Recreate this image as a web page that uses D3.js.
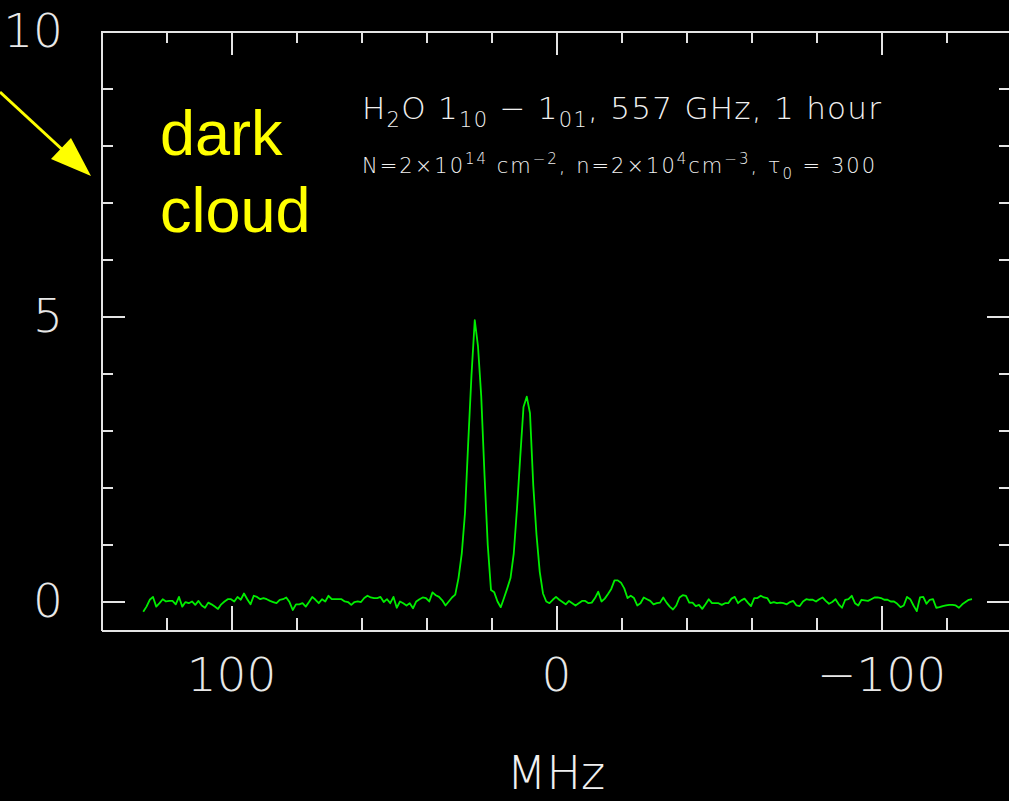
<!DOCTYPE html>
<html>
<head>
<meta charset="utf-8">
<style>
    body { margin: 0; background: #000; }
    svg { display: block; background: #000; }
    .axis path, .axis line { stroke: #e4e4e4; stroke-width: 2; shape-rendering: crispEdges; }
    .axis text { fill: #e8e8e8; font-family: "DejaVu Sans"; font-weight: 200; font-size: 47px; }
    .label { fill: #f0f0f0; font-family: "DejaVu Sans"; font-weight: 200; }
    .note { fill: #ffff00; font-family: "Liberation Sans", Arial, sans-serif; font-size: 63px; }
</style>
</head>
<body>
<svg width="1009" height="801"></svg>

<script src="https://d3js.org/d3.v7.min.js"></script>
<script>

    // spectrum channels: first channel and channel width (MHz)
    const freqStart = 127;
    const freqStep = -1;

    // antenna temperature per channel (127 MHz down to -128 MHz)
    const intensity = [
        -0.18, -0.09, 0.03, 0.08, -0.09, -0.03, 0.04, 0.0, 0.01, 0.01,
        -0.05, 0.08, -0.09, -0.01, -0.03, 0.0, -0.06, 0.01, -0.07, -0.11,
        -0.02, -0.05, -0.09, -0.13, -0.05, 0.0, 0.04, 0.04, 0.0, 0.08,
        0.03, 0.14, 0.04, -0.05, 0.10, 0.08, 0.04, 0.06, 0.04, 0.01,
        -0.01, -0.03, 0.03, 0.04, 0.07, -0.01, -0.15, -0.05, -0.05, -0.03,
        -0.09, -0.01, 0.08, 0.03, -0.03, 0.04, 0.0, 0.10, 0.04, 0.04,
        0.04, 0.04, 0.0, -0.01,
        -0.06, -0.01, 0.0, -0.01, 0.06, 0.10, 0.07, 0.06, 0.06, 0.08,
        -0.01, 0.04, -0.03, 0.08, -0.11, 0.0, -0.03, -0.07, -0.03, -0.12,
        0.0, 0.04, 0.07, 0.06, 0.0, 0.16, 0.11, 0.08, 0.02, -0.07,
        0.0, 0.07, 0.12,
        0.41, 0.84, 1.55, 2.80, 3.97, 4.93, 4.47, 3.59, 2.22, 0.99,
        0.20, 0.16, 0.0, -0.10, 0.06, 0.23, 0.41, 0.84, 1.63, 2.54,
        3.41, 3.59, 3.30, 2.04, 1.17, 0.52, 0.14, 0.0, -0.03, 0.03,
        0.08,
        0.03, -0.01, -0.05, 0.01, -0.03, -0.07, -0.03, 0.01, 0.01, -0.03,
        -0.02, 0.06, 0.17, 0.0, 0.05, 0.13, 0.22, 0.37, 0.37, 0.33,
        0.23, 0.06, 0.10, 0.06, -0.07, -0.03, 0.07, 0.04, 0.01, -0.05,
        -0.03, -0.02, 0.07, -0.02, -0.09, -0.14, -0.07, 0.07, 0.11, 0.10,
        -0.02, -0.02, -0.08, -0.06, -0.13, -0.05, 0.04, -0.03, -0.03, -0.03,
        -0.06, -0.03, -0.03, 0.05, 0.08, -0.03, 0.02, 0.05, -0.02, -0.08,
        0.06, 0.06, 0.10, 0.07,
        0.06, -0.03, -0.01, -0.03, -0.02, -0.03, -0.05, -0.01, 0.01, -0.07,
        -0.08, 0.0, 0.04, 0.03, 0.03, 0.0, 0.04, 0.07, 0.01, -0.04,
        -0.01, 0.04, -0.05, -0.11, 0.03, 0.04, 0.10, -0.03, -0.07, 0.03,
        0.02, 0.01, 0.04, 0.07, 0.07, 0.06, 0.03, 0.03, 0.0, 0.0,
        -0.04, -0.10, -0.07, 0.08, 0.04, -0.07, -0.17, 0.07, 0.08, -0.04,
        0.03, 0.04, -0.11, -0.10, -0.08, -0.07, -0.06, -0.06, -0.07, -0.11,
        -0.05, -0.01, 0.03, 0.04
    ];

    const xTicksMajor = [100, 0, -100];
    const xTicksMinor = [140, 120, 80, 60, 40, 20, -20, -40, -60, -80, -120, -140];
    const yTicksMajor = [0, 5, 10];
    const yTicksMinor = [1, 2, 3, 4, 6, 7, 8, 9];

    const width = 1009;
    const height = 801;
    const boxLeft = 101, boxRight = 1011, boxTop = 31, boxBottom = 630;

    let svg = d3.select("svg");

    let x = d3.scaleLinear().domain([140, -140]).range([boxLeft, boxRight]);
    let y = d3.scaleLinear().domain([-0.5, 10]).range([boxBottom, boxTop]);

    let data = intensity.map((v, i) => ({ f: freqStart + i * freqStep, v: v }));

    // axes: major ticks longer than minor, all pointing inward
    function addAxis(axis, transform) {
        svg.append("g")
            .attr("class", "axis")
            .attr("transform", transform)
            .call(axis)
    }

    addAxis(d3.axisBottom(x).tickValues(xTicksMinor).tickSizeInner(-12).tickSizeOuter(0).tickFormat(""), `translate(0,${boxBottom})`);
    addAxis(d3.axisBottom(x).tickValues(xTicksMajor).tickSizeInner(-24).tickSizeOuter(0).tickPadding(28), `translate(0,${boxBottom})`);
    addAxis(d3.axisTop(x).tickValues(xTicksMinor).tickSizeInner(-12).tickSizeOuter(0).tickFormat(""), `translate(0,${boxTop})`);
    addAxis(d3.axisTop(x).tickValues(xTicksMajor).tickSizeInner(-24).tickSizeOuter(0).tickFormat(""), `translate(0,${boxTop})`);

    addAxis(d3.axisLeft(y).tickValues(yTicksMinor).tickSizeInner(-12).tickSizeOuter(0).tickFormat(""), `translate(${boxLeft},0)`);
    addAxis(d3.axisLeft(y).tickValues(yTicksMajor).tickSizeInner(-24).tickSizeOuter(0).tickPadding(38), `translate(${boxLeft},0)`);
    addAxis(d3.axisRight(y).tickValues(yTicksMinor).tickSizeInner(-12).tickSizeOuter(0).tickFormat(""), `translate(${boxRight},0)`);
    addAxis(d3.axisRight(y).tickValues(yTicksMajor).tickSizeInner(-24).tickSizeOuter(0).tickFormat(""), `translate(${boxRight},0)`);

    svg.selectAll(".axis").attr("font-size", null).attr("font-family", null);

    // spectrum
    let line = d3.line()
        .x(d => x(d.f))
        .y(d => y(d.v))

    svg.append("path")
        .datum(data)
        .attr("d", line)
        .style("fill", "none")
        .style("stroke", "#00ee00")
        .style("stroke-width", 1.8)
        .style("stroke-linejoin", "round")

    // x label
    svg.append("text")
        .attr("class", "label")
        .attr("x", x(0))
        .attr("y", 789)
        .attr("text-anchor", "middle")
        .style("font-size", "46px")
        .text("MHz")

    // title lines
    let t1 = svg.append("text")
        .attr("class", "label")
        .attr("x", 362)
        .attr("y", 119)
        .attr("textLength", 519)
        .attr("lengthAdjust", "spacing")
        .style("font-size", "31px")
    t1.append("tspan").text("H")
    t1.append("tspan").attr("dy", 8).style("font-size", "21px").text("2")
    t1.append("tspan").attr("dy", -8).text("O 1")
    t1.append("tspan").attr("dy", 8).style("font-size", "21px").text("10")
    t1.append("tspan").attr("dy", -8).text(" \u2212 1")
    t1.append("tspan").attr("dy", 8).style("font-size", "21px").text("01")
    t1.append("tspan").attr("dy", -8).text(", 557 GHz, 1 hour")

    let t2 = svg.append("text")
        .attr("class", "label")
        .attr("x", 362)
        .attr("y", 173)
        .attr("textLength", 513)
        .attr("lengthAdjust", "spacing")
        .style("font-size", "21px")
    t2.append("tspan").text("N=2\u00d710")
    t2.append("tspan").attr("dy", -9).style("font-size", "15px").text("14")
    t2.append("tspan").attr("dy", 9).text(" cm")
    t2.append("tspan").attr("dy", -9).style("font-size", "15px").text("\u22122")
    t2.append("tspan").attr("dy", 9).text(", n=2\u00d710")
    t2.append("tspan").attr("dy", -9).style("font-size", "15px").text("4")
    t2.append("tspan").attr("dy", 9).text("cm")
    t2.append("tspan").attr("dy", -9).style("font-size", "15px").text("\u22123")
    t2.append("tspan").attr("dy", 9).text(", \u03c4")
    t2.append("tspan").attr("dy", 6).style("font-size", "15px").text("0")
    t2.append("tspan").attr("dy", -6).text(" = 300")

    // yellow annotation
    svg.append("text").attr("class", "note").attr("x", 160).attr("y", 155).text("dark")
    svg.append("text").attr("class", "note").attr("x", 160).attr("y", 232).text("cloud")

    svg.append("line")
        .attr("x1", 0).attr("y1", 92)
        .attr("x2", 66).attr("y2", 153)
        .style("stroke", "#ffff00")
        .style("stroke-width", 3)

    svg.append("polygon")
        .attr("points", "91,176 51,159 71,138")
        .style("fill", "#ffff00")

</script>
</body>
</html>
